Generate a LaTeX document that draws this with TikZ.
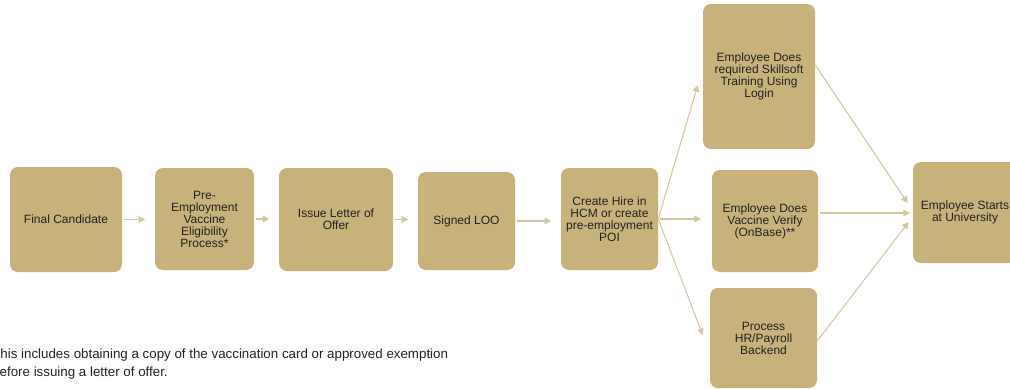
\documentclass[tikz,border=0pt]{standalone}
\usepackage{fontspec}
\setmainfont{Liberation Sans}
\usetikzlibrary{positioning,arrows.meta}
\definecolor{gold}{HTML}{C8B27C}
\definecolor{goldline}{HTML}{D6C9A2}
\definecolor{ink}{HTML}{222222}

\begin{document}
\begin{tikzpicture}[x=0.75pt,y=-0.75pt,%
    stage/.style={fill=gold,text=ink,rounded corners=6pt,align=center,inner sep=2pt,
                  font=\fontsize{9}{9}\selectfont},
    flow/.style={-{Triangle[length=5pt,width=5pt]},draw=goldline,fill=goldline,line width=0.8pt},
    note/.style={align=left,anchor=north west,inner sep=0pt,text=ink,
                 font=\fontsize{10}{13.5}\selectfont}]
  \useasboundingbox (0,0) rectangle (1010,389);
  \clip (0,0) rectangle (1010,389);

  % main row
  \foreach \name/\xc/\yc/\w/\h/\desc [count=\i] in {%
      cand/66/219.5/84pt/78.75pt/{Final Candidate},%
      elig/204.5/219/74.25pt/76.5pt/{Pre-\\Employment\\Vaccine\\Eligibility\\Process*},%
      offer/336/219.5/85.5pt/77.25pt/{Issue Letter of\\Offer},%
      loo/466.5/221/72.75pt/73.5pt/{Signed LOO},%
      hire/609.5/219/72.75pt/76.5pt/{Create Hire in\\HCM or create\\pre-employment\\POI}%
     } { \node[stage,minimum width=\w,minimum height=\h] (\name) at (\xc,\yc) {\desc};
         \ifnum\i>1 \draw[flow,shorten <=1pt,shorten >=7pt] (\prevstage.east) -- (\prevstage.east -| \name.west);\fi
         \global\let\prevstage=\name% for drawing from last stage
     }

  % parallel steps
  \node[stage,minimum width=84pt,minimum height=108.75pt] (skill) at (759,76.5)
       {Employee Does\\required Skillsoft\\Training Using\\Login};
  \node[stage,minimum width=79.5pt,minimum height=76.5pt] (verify) at (765,221)
       {Employee Does\\Vaccine Verify\\(OnBase)**};
  \node[stage,minimum width=80.25pt,minimum height=75pt] (payroll) at (763.5,338)
       {Process\\HR/Payroll\\Backend};
  \node[stage,minimum width=78pt,minimum height=75.75pt] (start) at (965,212.5)
       {Employee Starts\\at University};

  \draw[flow] (hire.east) -- ([xshift=-3.75pt,yshift=-6.4pt]skill.west);
  \draw[flow,shorten <=1pt,shorten >=8pt] (hire.east) -- (hire.east -| verify.west);
  \draw[flow] (hire.east) -- ([xshift=-5.25pt,yshift=2.25pt]payroll.west);

  \draw[flow] ([yshift=8.6pt]skill.east) -- ([xshift=-3.75pt,yshift=7.1pt]start.west);
  \draw[flow,shorten <=1pt,shorten >=2pt] ([yshift=6pt]verify.east) -- ([yshift=6pt]verify.east -| start.west);
  \draw[flow] ([yshift=-2.25pt]payroll.east) -- ([xshift=-3pt,yshift=-7.1pt]start.west);

  \node[note] (footnote) at (-8,349)
       {This includes obtaining a copy of the vaccination card or approved exemption\\
        before issuing a letter of offer.};
\end{tikzpicture}
\end{document}
